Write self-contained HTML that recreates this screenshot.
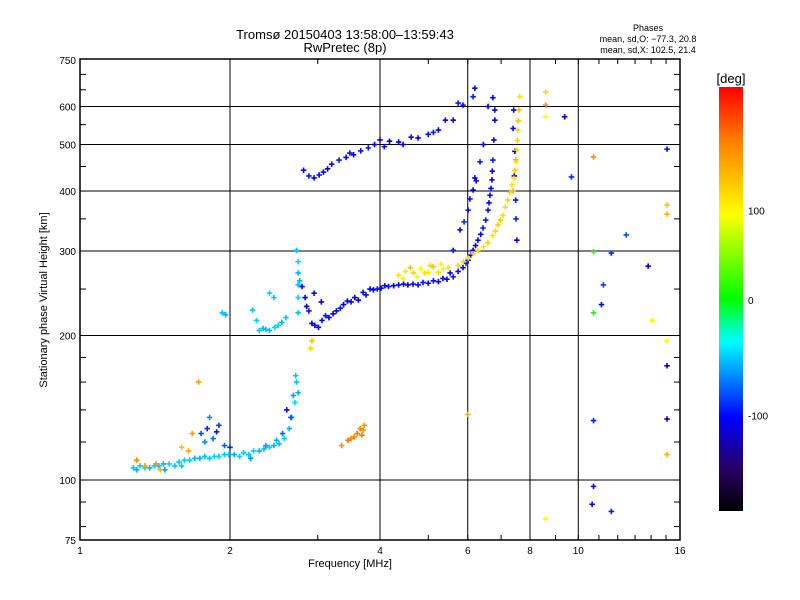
<!DOCTYPE html>
<html><head><meta charset="utf-8"><style>
body{margin:0;background:#fff}
svg{display:block;font-family:"Liberation Sans","DejaVu Sans",sans-serif}
</style></head><body>
<svg id="c" width="800" height="600" viewBox="0 0 800 600">
<defs><linearGradient id="cb" x1="0" y1="0" x2="0" y2="1">
<stop offset="0" stop-color="#ff0000"/><stop offset="0.13" stop-color="#ff8000"/><stop offset="0.30" stop-color="#ffff00"/><stop offset="0.50" stop-color="#00ff00"/><stop offset="0.60" stop-color="#00ffff"/><stop offset="0.78" stop-color="#0000ff"/><stop offset="0.90" stop-color="#280064"/><stop offset="1" stop-color="#000000"/></linearGradient></defs>
<rect x="0" y="0" width="800" height="600" fill="#fff"/>
<text x="345" y="39" font-size="13" text-anchor="middle">Tromsø 20150403 13:58:00–13:59:43</text>
<text x="345" y="52" font-size="13" text-anchor="middle">RwPretec (8p)</text>
<text x="648" y="31" font-size="9" text-anchor="middle">Phases</text>
<text x="648" y="42" font-size="9" text-anchor="middle">mean, sd,O: −77.3, 20.8</text>
<text x="648" y="53" font-size="9" text-anchor="middle">mean, sd,X: 102.5, 21.4</text>
<g id="grid"></g>
<g id="marks"></g>
<rect x="80" y="59" width="600" height="481" fill="none" stroke="#000" stroke-width="1.5"/>
<g id="axes"></g>
<text x="350" y="567" font-size="11" text-anchor="middle">Frequency [MHz]</text>
<text transform="translate(47,300) rotate(-90)" font-size="11" text-anchor="middle">Stationary phase Virtual Height [km]</text>
<text x="731" y="83" font-size="13" text-anchor="middle">[deg]</text>
<rect x="719" y="87" width="24" height="424" fill="url(#cb)"/>
<g id="cbt"></g>
</svg>
<script>
const xTickVals=[1,2,4,6,8,10,16];
const yTickVals=[75,100,200,300,400,500,600,750];
const cbTickVals=[100,0,-100];
// E trace
const eF=[1.28,1.30,1.32,1.35,1.38,1.41,1.44,1.47,1.51,1.55,1.58,1.62,1.66,1.70,1.74,1.78,1.82,1.86,1.90,1.95,1.99,2.04,2.09,2.13,2.18,2.23,2.29,2.34,2.40,2.45,2.51,2.57,2.63,2.66,2.70,2.72,2.74,1.75,1.8,1.85,1.9,1.82,1.95,2.0,2.6,2.65,2.55,1.78,1.88,2.68,2.71,1.48,1.60,2.20,2.36,2.48];
const eH=[106,105,107,106,106,107,107,108,108,107,109,110,110,111,111,112,111,112,112,113,113,113,112,114,113,115,115,116,117,118,119,122,128,135,145,160,152,125,128,122,130,135,118,117,140,135,125,120,126,150,165,105,107,111,118,121];
const eP=[-45,-50,-40,-45,-50,-40,-45,-50,-40,-45,-45,-40,-40,-50,-50,-45,-45,-40,-40,-45,-45,-50,-40,-45,-45,-40,-50,-45,-40,-50,-45,-40,-50,-45,-40,-45,-50,-80,-90,-70,-85,-60,-75,-90,-100,-80,-70,-60,-95,-55,-45,-55,-45,-60,-55,-50];
// sporadic orange points
const sF=[1.35,1.45,1.6,1.65,1.73,1.3,3.35,3.45,3.5,3.6,3.65,3.7,3.72,3.55,3.68,6.0,2.9,2.92,1.42,1.68];
const sH=[107,105,117,115,160,110,118,121,122,125,128,127,130,123,124,137,188,195,108,125];
const sP=[150,140,130,145,150,160,155,170,160,170,165,150,155,165,170,140,120,130,160,150];
// F1 cyan trace
const f1F=[1.93,1.96,2.22,2.26,2.29,2.33,2.40,2.46,2.54,2.59,2.40,2.45,2.74,2.74,2.74,2.74,2.74,2.72,2.76,2.36,2.50];
const f1H=[223,221,226,215,205,207,205,208,213,218,245,240,223,240,255,270,285,301,260,206,210];
const f1P=[-45,-50,-45,-40,-45,-50,-45,-40,-50,-45,-40,-45,-45,-40,-45,-50,-40,-45,-50,-45,-40];
// blue X trace
const xF=[2.79,2.83,2.88,2.92,2.96,3.01,3.06,3.11,3.16,3.27,3.38,3.50,3.62,3.75,3.88,4.02,4.16,4.36,4.55,4.77,5.0,5.24,5.45,5.61,5.87,6.01,6.15,6.29,6.44,6.59,6.65,6.71,6.74,6.77,6.80,6.80,5.61,5.79,6.01,6.15,6.20,7.42,7.46,7.49,7.53,2.85,2.95,3.05,3.22,3.33,3.44,3.56,3.70,3.82,3.95,4.09,4.26,4.46,4.66,4.88,5.12,5.35,5.53,5.74,5.95,6.08,6.22,6.37,6.52,6.62,6.68,6.72,5.90,6.06,6.24,6.35,6.45,7.40,7.44,7.50];
const xH=[253,240,225,212,210,208,215,220,218,225,232,235,237,243,249,251,253,255,255,255,257,259,262,265,277,287,301,316,335,365,392,422,464,511,562,590,301,332,365,402,426,590,484,383,316,230,245,235,222,228,236,240,246,250,250,254,254,256,256,258,260,263,270,272,283,294,308,325,348,378,405,440,345,385,420,460,500,540,430,350];
const xP=[-100,-110,-95,-105,-100,-110,-100,-95,-105,-100,-110,-100,-105,-100,-110,-100,-95,-105,-110,-100,-105,-100,-110,-95,-105,-100,-110,-100,-95,-105,-100,-110,-95,-100,-105,-100,-95,-110,-100,-105,-100,-100,-110,-95,-105,-120,-100,-110,-105,-95,-100,-110,-100,-105,-95,-100,-110,-100,-105,-95,-100,-110,-105,-100,-95,-105,-110,-100,-95,-105,-100,-110,-90,-100,-105,-95,-110,-100,-105,-95];
// orange/yellow O trace
const oF=[4.36,4.5,4.67,4.83,5.0,5.12,5.24,5.36,5.48,5.74,6.01,6.29,6.59,6.74,6.90,7.06,7.22,7.36,7.46,7.53,7.56,7.60,7.63,7.40,7.50,7.58,4.45,4.60,4.75,4.92,5.05,5.30,5.88,6.15,6.45,6.82,6.98,7.14,7.29,7.43,7.49,7.55];
const oH=[267,272,270,276,271,278,271,275,277,280,290,301,312,323,340,356,383,412,442,487,536,590,629,400,460,560,263,277,265,270,280,282,285,296,306,330,348,370,398,425,465,510];
const oP=[110,80,120,100,105,130,115,90,110,120,110,115,120,110,125,115,120,110,125,115,120,130,110,140,100,130,100,130,90,110,120,100,115,125,110,120,130,115,125,110,135,120];
// upper trace
const uF=[2.81,2.88,2.95,3.02,3.08,3.20,3.31,3.42,3.54,3.66,3.79,3.90,4.0,4.18,4.36,4.62,4.77,5.0,5.24,5.41,5.61,5.74,5.87,6.15,6.20,6.59,6.74,3.14,3.48,4.08,4.45,5.12];
const uH=[442,430,426,432,438,455,464,470,476,485,492,500,511,508,506,518,516,525,536,562,562,610,604,629,655,600,626,445,480,495,500,530];
const uP=[-100,-95,-105,-100,-110,-100,-95,-100,-110,-100,-95,-105,-100,-110,-105,-100,-105,-100,-110,-100,-105,-95,-100,-95,-100,-105,-100,-110,-95,-100,-105,-95];
// scattered right points
const rF=[8.60,8.60,8.60,9.39,9.69,10.73,15.07,15.07,15.07,12.48,10.73,11.65,13.81,11.23,11.13,10.73,14.07,15.07,15.07,10.73,15.07,15.07,10.73,10.66,11.65,8.60];
const rH=[643,604,571,571,428,471,489,374,358,324,299,297,279,255,232,223,215,195,173,133,134,113,97,89,86,83];
const rP=[120,160,95,-110,-90,160,-95,130,140,-80,20,-90,-110,-85,-100,20,100,100,-120,-95,-120,140,-100,-100,-95,100];

const svg=document.getElementById('c'),NS='http://www.w3.org/2000/svg';
const X=f=>80+150*Math.log2(f);
const Y=h=>540-480*Math.log10(h/75);
const stops=[[0,[255,0,0]],[.13,[255,128,0]],[.30,[255,255,0]],[.50,[0,255,0]],[.60,[0,255,255]],[.78,[0,0,255]],[.90,[40,0,100]],[1,[0,0,0]]];
const PY=p=>313-1.025*p;
function col(p){let t=(PY(p)-87)/424;t=Math.max(0,Math.min(1,t));
 for(let i=1;i<stops.length;i++){if(t<=stops[i][0]){const a=stops[i-1],b=stops[i],u=(t-a[0])/(b[0]-a[0]);
 return 'rgb('+a[1].map((v,k)=>Math.round(v+(b[1][k]-v)*u)).join(',')+')';}}return '#000';}
function mk(tag,at,par){const e=document.createElementNS(NS,tag);for(const k in at)e.setAttribute(k,at[k]);par.appendChild(e);return e;}
const grid=document.getElementById('grid'),axes=document.getElementById('axes');
xTickVals.forEach(v=>{const x=X(v);
 if(v>1&&v<16){const l=mk('line',{x1:x,x2:x,y1:59,y2:540,stroke:'#000','stroke-width':1},grid);
 
 }
 const t=mk('text',{x:x,y:554,'font-size':10,'text-anchor':'middle'},axes);t.textContent=v;
 
 });
for(let v=1;v<=16;v++){const x=X(v);mk('line',{x1:x,x2:x,y1:540,y2:535,stroke:'#000'},axes);mk('line',{x1:x,x2:x,y1:59,y2:64,stroke:'#000'},axes);}
yTickVals.forEach(v=>{const y=Y(v);
 if(v>75&&v<750){const l=mk('line',{x1:80,x2:680,y1:y,y2:y,stroke:'#000','stroke-width':1},grid);
 
 }
 const t=mk('text',{x:76,y:y+4,'font-size':10,'text-anchor':'end'},axes);t.textContent=v;
 
 });
for(let v=80;v<=700;v+=(v<100?10:v<200?20:50)){const y=Y(v);mk('line',{x1:80,x2:86,y1:y,y2:y,stroke:'#000'},axes);mk('line',{x1:680,x2:674,y1:y,y2:y,stroke:'#000'},axes);}
const cbt=document.getElementById('cbt');
cbTickVals.forEach(v=>{const y=v===0?300:PY(v);
 const t=mk('text',{x:748,y:y+4,'font-size':10},cbt);t.textContent=v;
 
 });
const marks=document.getElementById('marks');
function plot(F,H,P,name){for(let i=0;i<F.length;i++){const x=X(F[i]),y=Y(H[i]),c=col(P[i]);
 const p=mk('path',{d:`M${x-2.75} ${y}h5.5M${x} ${y-2.75}v5.5`,stroke:c,'stroke-width':1.6,fill:'none'},marks);
 
 }}
plot(eF,eH,eP,'e-trace-point');
plot(sF,sH,sP,'sporadic-point');
plot(f1F,f1H,f1P,'f1-trace-point');
plot(xF,xH,xP,'x-trace-point');
plot(oF,oH,oP,'o-trace-point');
plot(uF,uH,uP,'upper-trace-point');
plot(rF,rH,rP,'scatter-point');
</script>
</body></html>
